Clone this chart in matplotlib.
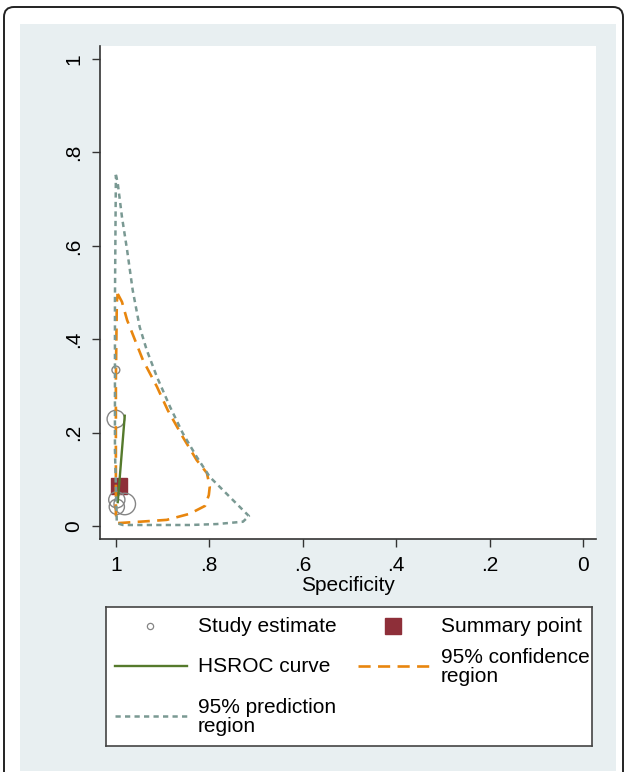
"""SROC plot (Stata metandi style): study estimates, summary point,
HSROC curve, 95% confidence and prediction regions."""

import matplotlib

matplotlib.use("Agg")
import matplotlib.pyplot as plt
from matplotlib.lines import Line2D
from matplotlib.patches import FancyBboxPatch, Rectangle

plt.rcParams["font.family"] = ["Liberation Sans", "DejaVu Sans"]

# ---- data ----
study_spec = [1.000, 1.000, 0.998, 0.981, 0.998]
study_sens = [0.334, 0.229, 0.056, 0.047, 0.041]
study_weight = [0.2, 1.0, 0.85, 1.5, 0.75]

summary_spec = [0.9925]
summary_sens = [0.085]

hsroc_spec = [0.996, 0.981]
hsroc_sens = [0.051, 0.236]

conf_spec = [0.996, 0.987, 0.976, 0.959, 0.942, 0.912, 0.889, 0.857, 0.827,
             0.805, 0.799, 0.801, 0.809, 0.842, 0.891, 0.949, 0.996, 1.000,
             1.000, 1.000, 0.998, 0.996]
conf_sens = [0.497, 0.480, 0.441, 0.398, 0.355, 0.298, 0.248, 0.191, 0.141,
             0.113, 0.084, 0.066, 0.043, 0.026, 0.013, 0.009, 0.006, 0.024,
             0.163, 0.313, 0.480, 0.497]

pred_spec = [1.000, 0.996, 0.987, 0.976, 0.964, 0.949, 0.934, 0.912, 0.884,
             0.857, 0.827, 0.799, 0.756, 0.715, 0.728, 0.784, 0.842, 0.912,
             0.985, 0.998, 1.002, 1.002, 1.000]
pred_sens = [0.752, 0.734, 0.662, 0.591, 0.505, 0.426, 0.377, 0.319, 0.255,
             0.199, 0.148, 0.105, 0.062, 0.021, 0.009, 0.004, 0.002, 0.002,
             0.002, 0.006, 0.163, 0.484, 0.752]

ticks = [1, 0.8, 0.6, 0.4, 0.2, 0]
tick_labels = ["1", ".8", ".6", ".4", ".2", "0"]

# ---- styles ----
W, H = 624, 772
BG = "#e8eff1"
C_STUDY = "#858585"
C_SUMMARY = "#8e2f39"
C_HSROC = "#557a2c"
C_CONF = "#e8860e"
C_PRED = "#7a9993"
FS = 15
CONF_LS = dict(color=C_CONF, lw=1.9, dashes=(4.6, 2.8))
PRED_LS = dict(color=C_PRED, lw=1.8, dashes=(2.1, 1.7))


def px_box(x0, y0, x1, y1):
    """Figure-fraction rect from pixel corners (top-left origin)."""
    return [x0 / W, 1 - y1 / H, (x1 - x0) / W, (y1 - y0) / H]


fig = plt.figure(figsize=(W / 100, H / 100), dpi=100)

# outer rounded frame and graph-region background (behind the axes)
frame = FancyBboxPatch((4 / W, -0.05), 619 / W, 1 - 7 / H + 0.05,
                       boxstyle="round,pad=0,rounding_size=0.016",
                       mutation_aspect=W / H,
                       transform=fig.transFigure, facecolor="white",
                       edgecolor="#222222", lw=1.4, zorder=-2)
fig.patches.append(frame)
fig.patches.append(Rectangle((20 / W, 1 - 771 / H), 596 / W, 747 / H,
                             transform=fig.transFigure, facecolor=BG,
                             edgecolor="none", zorder=-1))

ax = fig.add_axes(px_box(100, 46, 596, 539))
ax.set_facecolor("white")

ax.scatter(study_spec, study_sens, s=[w * 160 for w in study_weight],
           facecolors="none", edgecolors=C_STUDY, linewidths=1.0, zorder=3)
ax.plot(summary_spec, summary_sens, "s", color=C_SUMMARY, ms=11, zorder=2)
ax.plot(hsroc_spec, hsroc_sens, color=C_HSROC, lw=1.7, zorder=4)
ax.plot(conf_spec, conf_sens, zorder=5, **CONF_LS)
ax.plot(pred_spec, pred_sens, zorder=5, **PRED_LS)

ax.set_xlim(1.034, -0.028)
ax.set_ylim(-0.028, 1.028)
ax.set_xticks(ticks)
ax.set_xticklabels(tick_labels)
ax.set_yticks(ticks)
ax.set_yticklabels(tick_labels, rotation=90, va="center")
ax.tick_params(labelsize=FS, length=6, width=1, color="#333333", pad=6)
for side in ("top", "right"):
    ax.spines[side].set_visible(False)
for side in ("left", "bottom"):
    ax.spines[side].set_color("#333333")
    ax.spines[side].set_linewidth(1.2)
ax.set_xlabel("Specificity", fontsize=FS, labelpad=1)

# ---- legend, drawn in its own pixel-coordinate axes ----
lg = fig.add_axes(px_box(106, 607, 592, 746))
lg.set_xlim(106, 592)
lg.set_ylim(746, 607)
lg.set_xticks([])
lg.set_yticks([])
lg.set_facecolor("white")
for sp in lg.spines.values():
    sp.set_color("#444444")
    sp.set_linewidth(1.2)

lg.add_line(Line2D([150], [626], marker="o", ms=4.5, mfc="white",
                   mec=C_STUDY, mew=0.9))
lg.add_line(Line2D([393], [626], marker="s", ms=11, color=C_SUMMARY, lw=0))
lg.add_line(Line2D([115, 187], [666, 666], color=C_HSROC, lw=1.7))
lg.add_line(Line2D([358, 430], [666, 666], **CONF_LS))
lg.add_line(Line2D([115, 187], [716, 716], **PRED_LS))

txt = dict(fontsize=FS, va="center", ha="left", linespacing=1.0)
lg.text(198, 627, "Study estimate", **txt)
lg.text(441, 627, "Summary point", **txt)
lg.text(198, 667, "HSROC curve", **txt)
lg.text(441, 667, "95% confidence\nregion", **txt)
lg.text(198, 717, "95% prediction\nregion", **txt)

fig.savefig("out.png", dpi=100)
